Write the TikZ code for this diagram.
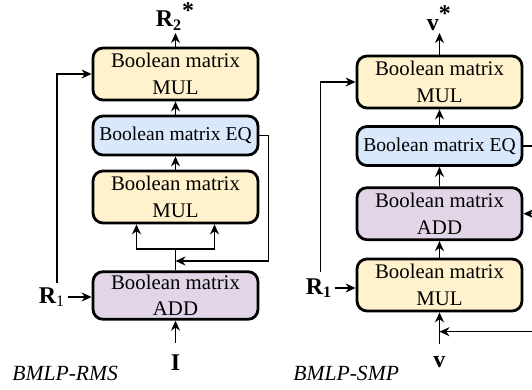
\documentclass[tikz,border=0pt]{standalone}
\usepackage{fontspec}
\setmainfont{Liberation Serif}
\usetikzlibrary{arrows.meta}
\definecolor{mulcol}{HTML}{FFF2CC}
\definecolor{eqcol}{HTML}{DAE8FC}
\definecolor{addcol}{HTML}{E1D5E7}
\tikzset{
    boolbox/.style={draw, line width=1.4pt, rounded corners=5pt, minimum width=82.5pt,
        align=center, inner sep=0pt, font=\fontsize{10.4}{13.3}\selectfont},
    mulbox/.style={boolbox, fill=mulcol, minimum height=26pt},
    eqbox/.style={boolbox, fill=eqcol, minimum height=19.5pt, font=\fontsize{9.8}{12}\selectfont},
    addbox/.style={boolbox, fill=addcol, minimum height=26pt},
    conn/.style={line width=0.7pt, -{Stealth[length=5pt,width=4.5pt]}},
    lbl/.style={font=\fontsize{12}{14}\selectfont\bfseries, inner sep=1pt},
    caption/.style={font=\fontsize{10.8}{12}\selectfont\itshape, anchor=west, inner sep=0pt}
}
\newcommand{\boolmat}[1]{Boolean matrix\\#1}
\newcommand{\bigstar}{\textsuperscript{\large *}}

\begin{document}
\begin{tikzpicture}[x=0.5pt,y=-0.5pt]
    \useasboundingbox (0,0) rectangle (532,390);

    % BMLP-RMS
    \node[mulbox] (mulA) at (175.5,74) {\boolmat{MUL}};
    \node[eqbox] (eqA) at (175.5,135.5) {Boolean matrix EQ};
    \node[mulbox] (mulB) at (175.5,197) {\boolmat{MUL}};
    \node[addbox, minimum height=23.8pt] (addA) at (175.5,295.5) {\boolmat{ADD}};
    \node[lbl, anchor=south] (outA) at (175.5,33) {R\textsubscript{2}\bigstar};
    \node[lbl] (inA) at (175.5,363) {I};
    \node[lbl] (rA) at (52,297) {R\textsubscript{\mdseries 1}};
    \node[caption] (capA) at (12,373) {BMLP-RMS};
    \coordinate (splitA) at (175.5,249);
    \coordinate (joinA) at (175.5,261);
    \coordinate (fbA) at (57,283);

    \draw[conn, shorten <=5pt] (inA) -- (addA);
    \draw[conn] (rA.east) -- (rA.east -| addA.west);
    \draw[conn] (fbA) |- (mulA.west);
    \draw[line width=0.7pt] (addA.north) -- (splitA);
    \draw[conn] (splitA) -| ([xshift=-19.5pt]mulB.south);
    \draw[conn] (splitA) -| ([xshift=19.5pt]mulB.south);
    \draw[conn] (eqA.east) -- ++(9,0) |- (joinA);
    \draw[conn] (mulB) -- (eqA);
    \draw[conn] (eqA) -- (mulA);
    \draw[conn] (mulA) -- (outA);

    % BMLP-SMP
    \node[mulbox] (mulC) at (439.5,82) {\boolmat{MUL}};
    \node[eqbox] (eqB) at (439.5,146) {Boolean matrix EQ};
    \node[addbox] (addB) at (439.5,213.7) {\boolmat{ADD}};
    \node[mulbox] (mulD) at (439.5,285) {\boolmat{MUL}};
    \node[lbl, anchor=south] (outB) at (439.5,33) {v\bigstar};
    \node[lbl] (inB) at (439.5,362) {v};
    \node[lbl] (rB) at (319,288) {R\textsubscript{1}};
    \node[caption] (capB) at (293,373) {BMLP-SMP};
    \coordinate (joinB) at (439.5,331.7);
    \coordinate (fbB) at (320.7,272);
    \coordinate (sideB) at (545,146);

    \draw[conn, shorten <=5pt] (inB) -- (mulD);
    \draw[conn] (rB.east) -- (rB.east -| mulD.west);
    \draw[conn] (fbB) |- (mulC.west);
    \draw[line width=0.7pt] (eqB.east) -- (sideB);
    \draw[conn] (sideB) |- (addB.east);
    \draw[conn] (sideB) |- (joinB);
    \draw[conn] (mulD) -- (addB);
    \draw[conn] (addB) -- (eqB);
    \draw[conn] (eqB) -- (mulC);
    \draw[conn] (mulC) -- (outB);
\end{tikzpicture}
\end{document}
